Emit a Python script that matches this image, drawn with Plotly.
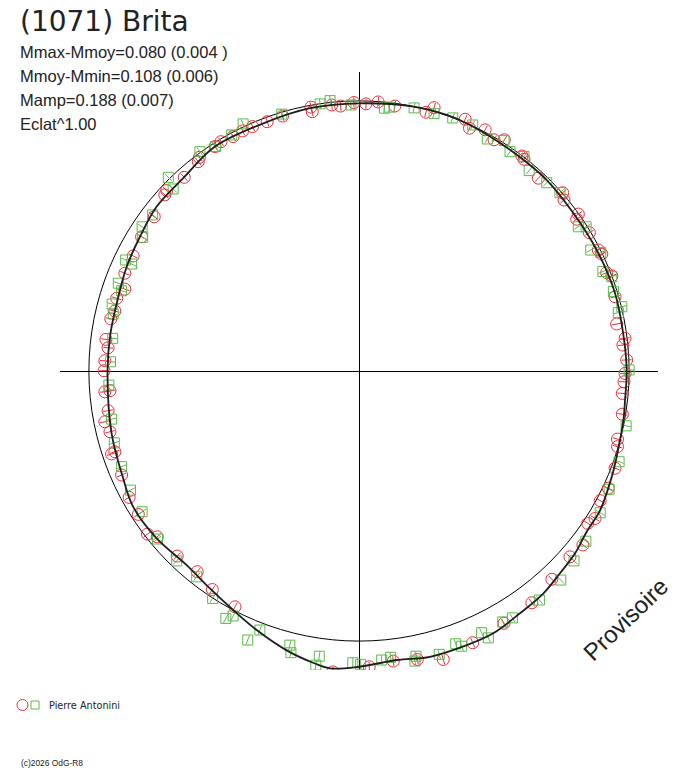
import numpy as np
import plotly.graph_objects as go

W, H = 688, 768
PAGE_PAD = 8  # the page body adds this much space around the plot div

TITLE = "(1071) Brita"
STATS = [
    "Mmax-Mmoy=0.080 (0.004 )",
    "Mmoy-Mmin=0.108 (0.006)",
    "Mamp=0.188 (0.007)",
    "Eclat^1.00",
]
OBSERVER = "Pierre Antonini"
COPYRIGHT = "(c)2026 OdG-R8"
STAMP = "Provisoire"

R_REF = 1.0   # mean brightness circle
AX_LIM = 1.107

# fitted polar lightcurve (x, y in units of the mean circle)
CURVE_X = [0, 0.201, 0.325, 0.411, 0.559, 0.695, 0.794, 0.880, 0.948, 0.979, 0.991,
           0.985, 0.979, 0.954, 0.936, 0.893, 0.843, 0.800, 0.744, 0.683, 0.596, 0.497,
           0.399, 0.263, 0.140, 0.0, -0.107, -0.163, -0.263, -0.379, -0.466, -0.552,
           -0.638, -0.749, -0.836, -0.875, -0.916, -0.931, -0.920, -0.891, -0.860,
           -0.811, -0.749, -0.651, -0.533, -0.354, -0.181]
CURVE_Y = [0.991, 0.979, 0.948, 0.911, 0.819, 0.707, 0.584, 0.448, 0.288, 0.133, 0.004,
           -0.107, -0.181, -0.317, -0.391, -0.515, -0.595, -0.675, -0.749, -0.823, -0.897,
           -0.971, -1.015, -1.058, -1.070, -1.095, -1.101, -1.083, -1.037, -0.959, -0.885,
           -0.805, -0.719, -0.620, -0.503, -0.391, -0.231, 0.0, 0.140, 0.275, 0.386,
           0.497, 0.609, 0.714, 0.831, 0.917, 0.973]

# observations, session 1 (red circles)
RED_X = [-0.019, 0.026, 0.071, 0.133, 0.248, 0.278, 0.393, 0.409, 0.467, 0.500, 0.538,
         0.603, 0.611, 0.664, 0.754, 0.759, 0.812, 0.806, 0.853, 0.886, 0.899, 0.917,
         0.936, 0.948, 0.954, 0.985, 0.977, 0.991, 0.985, 0.981, 0.975, 0.975, 0.957,
         0.957, 0.948, 0.923, 0.893, 0.874, 0.847, 0.829, 0.781, 0.714, 0.640, 0.537,
         0.421, 0.312, 0.216, 0.127, 0.038, -0.097, -0.459, -0.543, -0.599, -0.673,
         -0.747, -0.783, -0.817, -0.851, -0.879, -0.916, -0.904, -0.922, -0.941, -0.929,
         -0.941, -0.922, -0.944, -0.941, -0.929, -0.937, -0.919, -0.904, -0.897, -0.867,
         -0.867, -0.836, -0.805, -0.758, -0.719, -0.712, -0.647, -0.595, -0.591, -0.533,
         -0.511, -0.466, -0.431, -0.394, -0.340, -0.283, -0.178, -0.173, -0.101, -0.068]
RED_Y = [0.994, 0.989, 0.996, 0.981, 0.958, 0.975, 0.932, 0.899, 0.893, 0.856, 0.856,
         0.796, 0.784, 0.714, 0.660, 0.633, 0.581, 0.562, 0.512, 0.448, 0.433, 0.364,
         0.352, 0.275, 0.174, 0.121, 0.096, 0.041, -0.009, -0.040, -0.083, -0.160, -0.252,
         -0.280, -0.360, -0.434, -0.480, -0.546, -0.564, -0.644, -0.688, -0.771, -0.858,
         -0.934, -1.006, -1.068, -1.068, -1.074, -1.095, -1.114, -0.873, -0.809, -0.743,
         -0.685, -0.614, -0.604, -0.531, -0.468, -0.385, -0.307, -0.299, -0.225, -0.188,
         -0.147, -0.077, -0.073, 0.001, 0.038, 0.086, 0.117, 0.193, 0.222, 0.269, 0.303,
         0.362, 0.426, 0.497, 0.571, 0.652, 0.668, 0.717, 0.775, 0.791, 0.831, 0.849,
         0.868, 0.889, 0.905, 0.923, 0.944, 0.977, 0.960, 0.985, 0.981]

# observations, session 2 (green squares)
GREEN_X = [-0.030, 0.094, 0.112, 0.204, 0.278, 0.347, 0.421, 0.475, 0.537, 0.559, 0.611,
           0.630, 0.695, 0.744, 0.812, 0.841, 0.858, 0.895, 0.903, 0.936, 0.942, 0.973,
           0.960, 1.000, 0.989, 0.963, 0.926, 0.893, 0.840, 0.796, 0.747, 0.668, 0.568,
           0.532, 0.454, 0.479, 0.380, 0.358, 0.297, 0.211, 0.207, 0.117, 0.084, 0.006,
           -0.023, -0.147, -0.160, -0.252, -0.256, -0.367, -0.412, -0.466, -0.493, -0.542,
           -0.601, -0.675, -0.746, -0.803, -0.846, -0.879, -0.906, -0.916, -0.926, -0.920,
           -0.912, -0.910, -0.914, -0.879, -0.891, -0.842, -0.864, -0.801, -0.803, -0.764,
           -0.688, -0.706, -0.589, -0.531, -0.471, -0.429, -0.286, -0.144, -0.107]
GREEN_Y = [0.985, 0.973, 0.977, 0.974, 0.953, 0.937, 0.911, 0.859, 0.853, 0.812, 0.794,
           0.742, 0.697, 0.660, 0.534, 0.534, 0.448, 0.438, 0.368, 0.349, 0.294, 0.238,
           0.216, 0.004, -0.203, -0.336, -0.438, -0.525, -0.630, -0.703, -0.774, -0.848,
           -0.914, -0.929, -0.969, -0.988, -1.019, -1.010, -1.049, -1.056, -1.074, -1.060,
           -1.070, -1.086, -1.080, -1.056, -1.089, -1.043, -1.015, -0.959, -0.996, -0.907,
           -0.916, -0.842, -0.762, -0.703, -0.622, -0.521, -0.441, -0.354, -0.266, -0.178,
           -0.052, 0.034, 0.121, 0.211, 0.248, 0.297, 0.325, 0.396, 0.411, 0.495, 0.534,
           0.578, 0.674, 0.717, 0.812, 0.831, 0.874, 0.915, 0.951, 0.989, 1.001]

RED = "#e8303a"
GREEN = "#5cbb4a"
INK = "#1e1e1e"


def fx(x):
    # screen pixel -> paper fraction
    return (x - PAGE_PAD) / W


def fy(y):
    return 1 - (y - PAGE_PAD) / H


def radial(xs, ys):
    return np.degrees(np.arctan2(xs, ys)).tolist()


fig = go.Figure()

for xs, ys, col, sym, size in [(RED_X, RED_Y, RED, "circle-open", 12),
                               (GREEN_X, GREEN_Y, GREEN, "square-open", 10)]:
    fig.add_trace(go.Scatter(x=xs, y=ys, mode="markers", hoverinfo="skip",
                             marker=dict(symbol=sym, size=size, color=col,
                                         line=dict(color=col, width=1))))
    # error ticks, drawn along the radius
    fig.add_trace(go.Scatter(x=xs, y=ys, mode="markers", hoverinfo="skip",
                             marker=dict(symbol="line-ns", size=7, angle=radial(xs, ys),
                                         line=dict(color=col, width=1))))

fig.add_trace(go.Scatter(x=CURVE_X + CURVE_X[:1], y=CURVE_Y + CURVE_Y[:1],
                         mode="lines", line=dict(color=INK, width=1.8, shape="spline"),
                         hoverinfo="skip"))

fig.add_shape(type="circle", xref="x", yref="y", x0=-R_REF, y0=-R_REF, x1=R_REF, y1=R_REF,
              line=dict(color="black", width=1), layer="below")

ann = []
ann.append(dict(text=TITLE, x=fx(18), y=fy(22), xanchor="left", yanchor="middle",
                font=dict(family="DejaVu Sans", size=28, color="#222")))
for i, s in enumerate(STATS):
    ann.append(dict(text=s, x=fx(18), y=fy(51.5 + 24.3 * i), xanchor="left", yanchor="middle",
                    font=dict(family="Liberation Sans", size=16.5, color="#222")))
ann.append(dict(text=OBSERVER, x=fx(47), y=fy(705.5), xanchor="left", yanchor="middle",
                font=dict(family="DejaVu Sans", size=9.7, color="#222")))
ann.append(dict(text=COPYRIGHT, x=fx(19), y=fy(763), xanchor="left", yanchor="middle",
                font=dict(family="Liberation Sans", size=8.4, color="#222")))
ann.append(dict(text=STAMP, x=fx(625), y=fy(619), xanchor="center", yanchor="middle",
                textangle=-44, font=dict(family="Liberation Sans", size=24, color="#222")))
for a in ann:
    a.update(xref="paper", yref="paper", showarrow=False)

# legend glyphs
fig.add_shape(type="circle", xref="paper", yref="paper", x0=fx(17), x1=fx(28),
              y0=fy(699.5), y1=fy(710.5), line=dict(color=RED, width=1))
fig.add_shape(type="rect", xref="paper", yref="paper", x0=fx(31), x1=fx(39),
              y0=fy(701), y1=fy(709), line=dict(color=GREEN, width=1))

axis = dict(range=[-AX_LIM, AX_LIM], showgrid=False, showticklabels=False, ticks="",
            zeroline=True, zerolinecolor="black", zerolinewidth=1, showline=False,
            fixedrange=True)
fig.update_layout(
    width=W, height=H, margin=dict(l=0, r=0, t=0, b=0),
    paper_bgcolor="white", plot_bgcolor="white", showlegend=False,
    xaxis=dict(axis, domain=[fx(60), fx(658)]),
    yaxis=dict(axis, domain=[fy(670), fy(72)]),
    annotations=ann,
)

fig.write_html("out.html")
